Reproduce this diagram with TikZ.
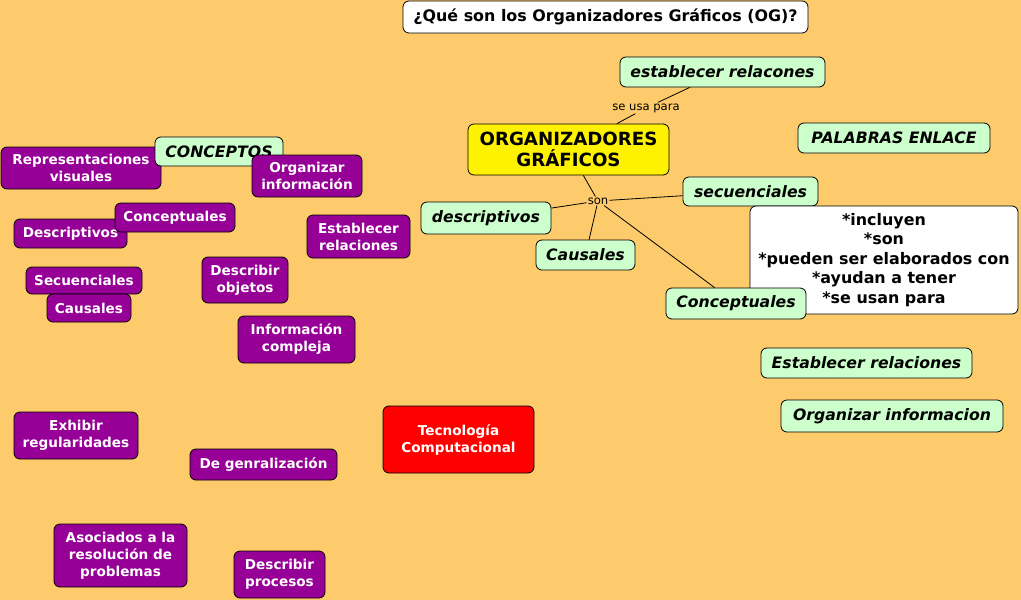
\documentclass[tikz,border=0pt]{standalone}
\usepackage{fontspec}
\setmainfont{DejaVu Sans}
\usetikzlibrary{positioning}
\definecolor{fondo}{RGB}{253,203,107}
\definecolor{verdeclaro}{RGB}{204,255,204}
\definecolor{purpura}{RGB}{150,0,150}

\begin{document}
\begin{tikzpicture}[x=1pt, y=-1pt,
  box/.style={rectangle, draw, rounded corners=6pt, line width=0.8pt, inner sep=0pt, align=center},
  titulo/.style={box, fill=white, font=\fontsize{15.9}{19.5}\selectfont\bfseries},
  verde/.style={box, fill=verdeclaro, font=\fontsize{15.7}{19}\selectfont\bfseries\itshape},
  lila/.style={box, fill=purpura, text=white, font=\fontsize{13.6}{17}\selectfont\bfseries},
  enlace/.style={font=\fontsize{11.6}{13}\selectfont, inner sep=1pt},
  linea/.style={line width=0.8pt}]
\fill[fondo] (0,0) rectangle (1021,600);
\useasboundingbox (0,0) rectangle (1021,600);

% mapa principal
\node[titulo, minimum width=405pt, minimum height=32pt] (preg) at (605.5,17) {¿Qué son los Organizadores Gráficos (OG)?};
\node[verde, minimum width=205pt, minimum height=30pt] (estab) at (722.5,72) {establecer relacones};
\node[box, fill=yellow, minimum width=201pt, minimum height=51pt, font=\fontsize{18.2}{21}\selectfont\bfseries] (org) at (568.5,149.5) {ORGANIZADORES\\GRÁFICOS};
\node[enlace] (usa) at (646,108) {se usa para};
\node[enlace] (son) at (598,201) {son};
\node[verde, minimum width=130pt, minimum height=32pt] (descr) at (486,218) {descriptivos};
\node[verde, minimum width=135pt, minimum height=29pt] (secu) at (750.5,191.5) {secuenciales};
\node[verde, minimum width=99pt, minimum height=30pt] (caus) at (585.5,255) {Causales};
\node[titulo, minimum width=268pt, minimum height=108pt] (pal) at (884,260) {*incluyen\\*son\\*pueden ser elaborados con\\*ayudan a tener\\*se usan para};
\node[verde, minimum width=140pt, minimum height=31pt] (conc) at (736,303.5) {Conceptuales};
\node[verde, minimum width=192pt, minimum height=30pt] (enl) at (894,138) {PALABRAS ENLACE};
\node[verde, minimum width=211pt, minimum height=30pt] (estrel) at (866.5,363) {Establecer relaciones};
\node[verde, minimum width=222pt, minimum height=32pt] (orginf) at (892,416) {Organizar informacion};

\draw[linea] (org) -- (usa) -- (estab);
\draw[linea] (org) -- (son);
\draw[linea] (son) -- (descr);
\draw[linea] (son) -- (secu);
\draw[linea] (son) -- (caus);
\draw[linea] (son) -- (conc);

% conceptos sueltos
\node[lila, minimum width=160pt, minimum height=42pt] (repr) at (81,168) {Representaciones\\visuales};
\node[verde, minimum width=128pt, minimum height=29pt] (conceptos) at (219,151.5) {CONCEPTOS};
\node[lila, minimum width=110pt, minimum height=42pt] (orgi) at (307,176) {Organizar\\información};
\node[lila, minimum width=113pt, minimum height=29pt] (descp) at (70.5,233.5) {Descriptivos};
\node[lila, minimum width=120pt, minimum height=29pt] (concp) at (175,217.5) {Conceptuales};
\node[lila, minimum width=103pt, minimum height=43pt] (estp) at (358.5,236.5) {Establecer\\relaciones};
\node[lila, minimum width=116pt, minimum height=27pt] (secp) at (84,280.5) {Secuenciales};
\node[lila, minimum width=84pt, minimum height=28pt] (causp) at (89,308) {Causales};
\node[lila, minimum width=86pt, minimum height=46pt] (dobj) at (245,280) {Describir\\objetos};
\node[lila, minimum width=117pt, minimum height=47pt] (infc) at (296.5,339.5) {Información\\compleja};
\node[lila, minimum width=124pt, minimum height=47pt] (exh) at (76,435.5) {Exhibir\\regularidades};
\node[lila, minimum width=147pt, minimum height=31pt] (gen) at (263.5,464.5) {De genralización};
\node[lila, fill=red, minimum width=151pt, minimum height=67pt] (tec) at (458.5,439.5) {Tecnología\\Computacional};
\node[lila, minimum width=133pt, minimum height=63pt] (asoc) at (120.5,555.5) {Asociados a la\\resolución de\\problemas};
\node[lila, minimum width=91pt, minimum height=47pt] (dproc) at (279.5,574.5) {Describir\\procesos};
\end{tikzpicture}
\end{document}
